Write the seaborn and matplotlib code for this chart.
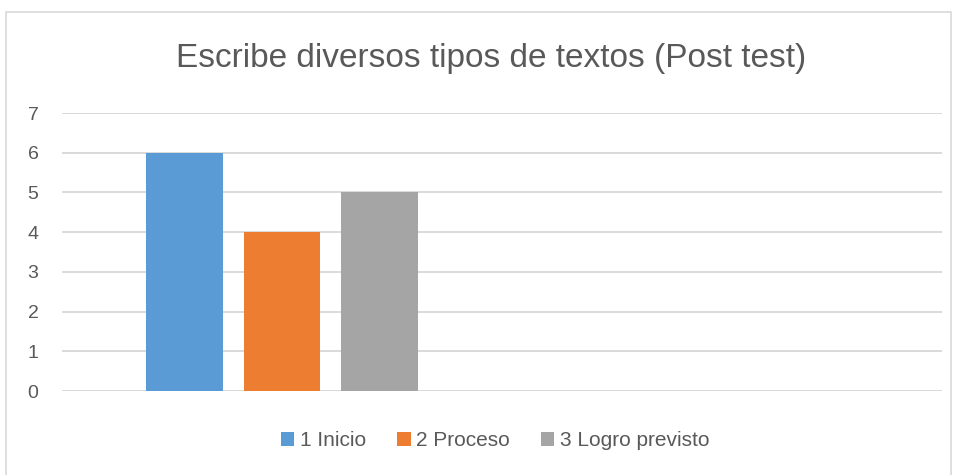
import pandas as pd
import seaborn as sns
import matplotlib.pyplot as plt
from matplotlib.patches import Rectangle

categories = ["A", "B"]
series = ["1 Inicio", "2 Proceso", "3 Logro previsto"]
values = [6, 4, 5]
colors = ["#5B9BD5", "#ED7D31", "#A5A5A5"]

df = pd.DataFrame({
    "cat": ["A"] * len(series),
    "serie": series,
    "valor": values,
})

sns.set_theme(style="white")
plt.rcParams["font.family"] = ["Liberation Sans", "DejaVu Sans"]

fig = plt.figure(figsize=(9.56, 4.75), dpi=100)
ax = fig.add_axes([62 / 956, 1 - 391 / 475, 880 / 956, 278 / 475])

sns.barplot(data=df, x="cat", y="valor", hue="serie", order=categories,
            hue_order=series, palette=colors, width=0.665, gap=0.22,
            saturation=1, linewidth=0, ax=ax, legend=True)

ax.set_xlim(-0.5, 1.5)
ax.set_ylim(0, 7)
ax.set_yticks(range(0, 8))
ax.yaxis.grid(True, color="#d9d9d9", linewidth=1.4)
ax.set_axisbelow(True)
for s in ax.spines.values():
    s.set_visible(False)
ax.set_xticks([])
ax.set_xlabel("")
ax.set_ylabel("")
ax.tick_params(axis="y", length=0, pad=17, labelsize=14, labelcolor="#595959")

fig.text(491 / 956, 1 - 58 / 475, "Escribe diversos tipos de textos (Post test)",
         ha="center", va="center", fontsize=24, color="#595959")

handles, labels = ax.get_legend_handles_labels()
ax.legend_.remove()
fig.legend(handles, labels, loc="center", bbox_to_anchor=(495 / 956, 1 - 441 / 475),
           ncol=3, frameon=False, fontsize=15, labelcolor="#595959",
           handlelength=0.65, handleheight=0.65, handletextpad=0.25, columnspacing=1.5)

fig.patches.append(Rectangle((6 / 956, -0.1), 945 / 956, 1.1 - 12 / 475,
                             transform=fig.transFigure, fill=False,
                             edgecolor="#d9d9d9", linewidth=1.2))

fig.savefig("out.png", dpi=100)
